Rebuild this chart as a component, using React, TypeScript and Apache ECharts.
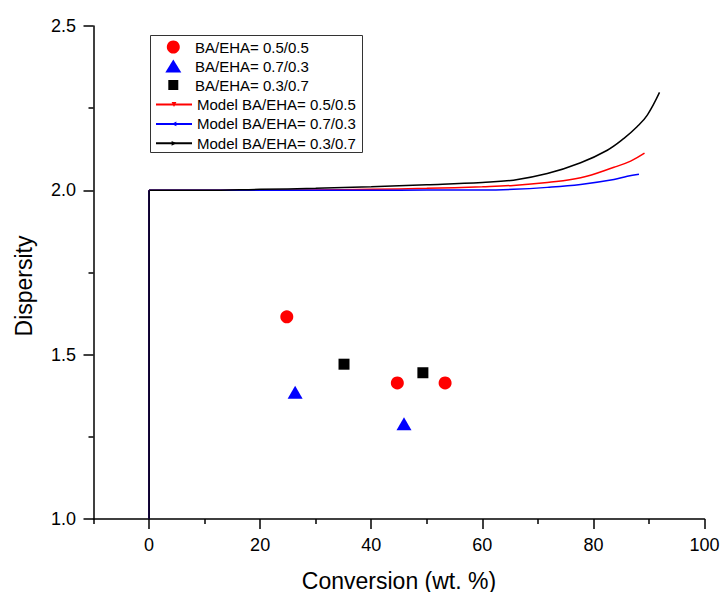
import React, { useEffect, useRef } from 'react';
import * as echarts from 'echarts';

const FONT = "'Liberation Sans', Arial, sans-serif";

const xMajorTicks = [0, 20, 40, 60, 80, 100];
const xMinorTicks = [-10, 10, 30, 50, 70, 90];

const expNames = ['BA/EHA= 0.5/0.5', 'BA/EHA= 0.7/0.3', 'BA/EHA= 0.3/0.7'];
const modelNames = ['Model BA/EHA= 0.5/0.5', 'Model BA/EHA= 0.7/0.3', 'Model BA/EHA= 0.3/0.7'];

// experimental points [conversion, dispersity]
const exp55 = [[24.8, 1.615], [44.7, 1.414], [53.3, 1.414]];
const exp73 = [[26.3, 1.386], [45.9, 1.29]];
const exp37 = [[35.1, 1.471], [49.3, 1.445]];

// model curves: initial vertical jump at zero conversion
const jump = [[0, 1.0], [0, 2.0]];
// model curves [conversion, dispersity] after the jump
const model55 = [
  [0, 2.0], [20, 2.0], [30, 2.001], [40, 2.003], [50, 2.006], [60, 2.011],
  [65.6, 2.015], [71.7, 2.024], [77.7, 2.038], [83.7, 2.07], [86.7, 2.089], [89.2, 2.113],
];
const model73 = [
  [0, 2.0], [40, 2.0], [50, 2.001], [60, 2.001], [65.6, 2.003], [71.7, 2.009],
  [77.7, 2.018], [83.7, 2.033], [86.1, 2.043], [88.2, 2.049],
];
const model37 = [
  [0, 2.0], [10, 2.0], [20, 2.003], [30, 2.006], [40, 2.011], [50, 2.017],
  [60, 2.024], [65.6, 2.031], [71.7, 2.051], [77.7, 2.084], [82.5, 2.122], [85.5, 2.158],
  [87.9, 2.194], [89.7, 2.229], [91.9, 2.298],
];

export default function App() {
  const ref = useRef<HTMLDivElement>(null);
  useEffect(() => {
    if (!ref.current) return;
    const chart = echarts.init(ref.current, undefined, { renderer: 'svg' });
    const textStyle = { fontSize: 15, lineHeight: 19, color: '#000', fontFamily: FONT };
    const legendCommon = {
      orient: 'vertical' as const,
      itemGap: 0.4,
      padding: 0,
      textStyle,
    };
    const scatterLegend = (name: string, centerY: number, w: number, h: number) => ({
      ...legendCommon,
      left: 173.3 - w / 2,
      top: centerY - 9.5,
      itemWidth: w,
      itemHeight: h,
      data: [name],
      textStyle: { ...textStyle, padding: [0, 0, 0, 195 - (173.3 + w / 2 + 5)] },
    });
    const lineCommon = (name: string, color: string, rot: number) => ({
      name,
      type: 'line',
      showSymbol: false,
      symbol: 'triangle',
      symbolSize: 5,
      symbolRotate: rot,
      lineStyle: { color, width: 1.5 },
      itemStyle: { color },
      z: 2,
    });
    chart.setOption({
      animation: false,
      backgroundColor: '#fff',
      textStyle: { fontFamily: FONT },
      grid: {
        left: 93.5, top: 26, width: 611, height: 493,
        containLabel: false, outerBoundsMode: 'none',
      },
      graphic: [
        {
          type: 'rect',
          shape: { x: 150.5, y: 35.5, width: 212, height: 117 },
          style: { fill: 'none', stroke: '#333', lineWidth: 1 },
          z: 10,
        },
      ],
      legend: [
        scatterLegend(expNames[0], 47, 13, 13),
        scatterLegend(expNames[1], 66, 16, 13),
        scatterLegend(expNames[2], 85, 10, 10),
        { ...legendCommon, left: 155, itemWidth: 36, top: 95, itemHeight: 6, data: modelNames },
      ],
      xAxis: [
        {
          type: 'value',
          min: -10,
          max: 100,
          position: 'bottom',
          axisLine: { show: true, onZero: false, lineStyle: { color: '#000', width: 1.5 } },
          axisTick: { show: true, customValues: xMajorTicks, length: 10, lineStyle: { color: '#000', width: 1.5 } },
          axisLabel: { customValues: xMajorTicks, margin: 17, fontSize: 18, color: '#000', fontFamily: FONT },
          splitLine: { show: false },
          name: 'Conversion (wt. %)',
          nameLocation: 'middle',
          nameGap: 50,
          nameTextStyle: { fontSize: 23, color: '#000', fontFamily: FONT },
        },
        {
          type: 'value',
          min: -10,
          max: 100,
          position: 'bottom',
          axisLine: { show: false, onZero: false },
          axisTick: { show: true, customValues: xMinorTicks, length: 5, lineStyle: { color: '#000', width: 1.5 } },
          axisLabel: { show: false },
          splitLine: { show: false },
        },
      ],
      yAxis: {
        type: 'value',
        min: 1.0,
        max: 2.5,
        interval: 0.5,
        axisLine: { show: true, onZero: false, lineStyle: { color: '#000', width: 1.5 } },
        axisTick: { show: true, length: 10, lineStyle: { color: '#000', width: 1.5 } },
        minorTick: { show: true, splitNumber: 2, length: 5, lineStyle: { color: '#000', width: 1.5 } },
        axisLabel: {
          margin: 17.5,
          fontSize: 18,
          color: '#000',
          fontFamily: FONT,
          formatter: (v: number) => v.toFixed(1),
        },
        splitLine: { show: false },
        name: 'Dispersity',
        nameLocation: 'middle',
        nameGap: 58,
        nameTextStyle: { fontSize: 23, color: '#000', fontFamily: FONT, padding: [0, 27, 0, 0] },
      },
      series: [
        { ...lineCommon(modelNames[0], '#ff0000', 180), data: model55, smooth: 0.4 },
        { ...lineCommon(modelNames[1], '#0000ff', 90), data: model73, smooth: 0.4 },
        { ...lineCommon(modelNames[2], '#000000', -90), data: model37, smooth: 0.4 },
        { ...lineCommon(modelNames[0], '#ff0000', 180), data: jump },
        { ...lineCommon(modelNames[1], '#0000ff', 90), data: jump },
        { ...lineCommon(modelNames[2], '#000000', -90), data: jump },
        {
          name: expNames[0], type: 'scatter', data: exp55, symbol: 'circle', symbolSize: 13,
          itemStyle: { color: '#ff0000', opacity: 1 }, z: 3,
        },
        {
          name: expNames[1], type: 'scatter', data: exp73, symbol: 'triangle', symbolSize: [15, 13],
          itemStyle: { color: '#0000ff', opacity: 1 }, z: 3,
        },
        {
          name: expNames[2], type: 'scatter', data: exp37, symbol: 'rect', symbolSize: 11,
          itemStyle: { color: '#000000', opacity: 1 }, z: 3,
        },
      ],
    });
    return () => chart.dispose();
  }, []);
  return (
    <div
      ref={ref}
      style={{ position: 'fixed', left: 0, top: 0, width: 721, height: 592, background: '#fff' }}
    />
  );
}
